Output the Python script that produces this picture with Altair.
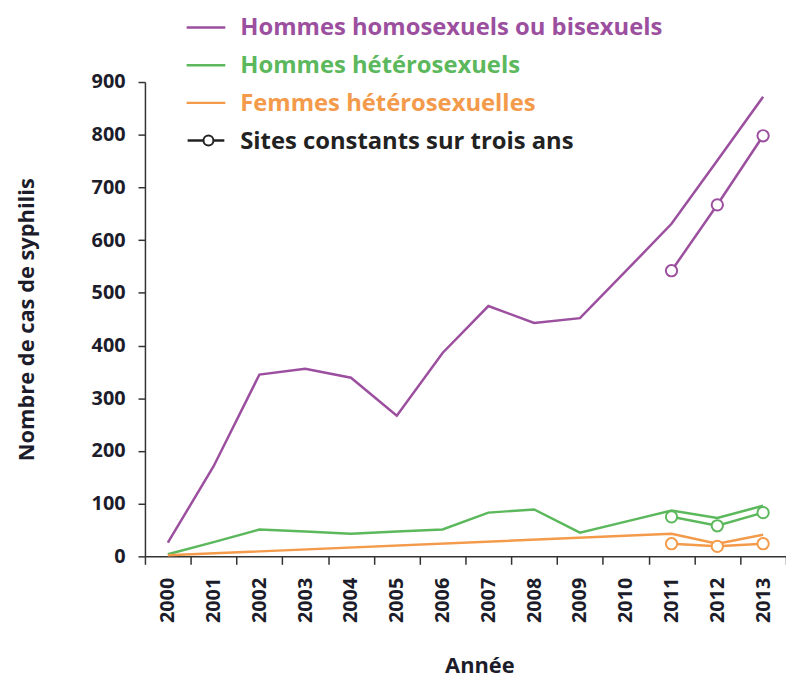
import altair as alt
import pandas as pd

years = [str(y) for y in range(2000, 2014)]
series_names = ["Hommes homosexuels ou bisexuels", "Hommes hétérosexuels", "Femmes hétérosexuelles"]
colors = ["#9b4f9e", "#5cb85c", "#f39a4b"]

msm = [26, 171, 345, 356, 339, 267, 386, 475, 443, 452, 541, 631, 751, 872]
men_het = [4, 27, 51, 47, 43, 47, 51, 83, 89, 45, 66, 87, 73, 96]
fem_years = ["2000", "2011", "2012", "2013"]
fem_het = [2, 43, 24, 41]

const_years = ["2011", "2012", "2013"]
const_msm = [542, 667, 798]
const_men = [75, 58, 83]
const_fem = [24, 19, 24]

legend_labels = series_names + ["Sites constants sur trois ans"]
legend_colors = colors + ["#222222"]

rows = []
for y, v in zip(years, msm):
    rows.append({"year": y, "value": v, "series": series_names[0]})
for y, v in zip(years, men_het):
    rows.append({"year": y, "value": v, "series": series_names[1]})
for y, v in zip(fem_years, fem_het):
    rows.append({"year": y, "value": v, "series": series_names[2]})
main = pd.DataFrame(rows)

crows = []
for name, vals in zip(series_names, [const_msm, const_men, const_fem]):
    for y, v in zip(const_years, vals):
        crows.append({"year": y, "value": v, "series": name})
const = pd.DataFrame(crows)

FONT = "Open Sans"
TXT = "#1c1c2a"
color_scale = alt.Scale(domain=series_names, range=colors)

x_enc = alt.X(
    "year:O",
    bandPosition=0.5,
    scale=alt.Scale(type="band", domain=years, paddingInner=0, paddingOuter=0),
    axis=alt.Axis(
        title="Année", labelAngle=270, tickBand="extent", tickSize=8,
        labelPadding=13, labelFontSize=20, titleFontSize=22,
        titleX=337, titleY=117, titleBaseline="alphabetic",
        labelFont=FONT, titleFont=FONT, labelFontWeight="bold", titleFontWeight="bold",
        labelColor=TXT, titleColor=TXT, domainColor="#333", tickColor="#333",
        domainWidth=1.5, tickWidth=1.5,
    ),
)
y_enc = alt.Y(
    "value:Q",
    scale=alt.Scale(domain=[0, 900], nice=False),
    axis=alt.Axis(
        title="Nombre de cas de syphilis", values=list(range(0, 901, 100)), grid=False,
        tickSize=7, labelPadding=13, labelFontSize=20, titleFontSize=22,
        titleX=-112, titleBaseline="alphabetic",
        labelFont=FONT, titleFont=FONT, labelFontWeight="bold", titleFontWeight="bold",
        labelColor=TXT, titleColor=TXT, domainColor="#333", tickColor="#333",
        domainWidth=1.5, tickWidth=1.5,
    ),
)

lines = alt.Chart(main).mark_line(strokeWidth=2.5).encode(
    x=x_enc, y=y_enc,
    color=alt.Color("series:N", scale=color_scale, legend=None),
)
const_lines = alt.Chart(const).mark_line(strokeWidth=2.5).encode(
    x=x_enc, y=y_enc,
    color=alt.Color("series:N", scale=color_scale, legend=None),
)
const_pts = alt.Chart(const).mark_point(filled=True, fill="white", size=130, strokeWidth=2, opacity=1).encode(
    x=x_enc, y=y_enc,
    stroke=alt.Stroke("series:N", scale=color_scale, legend=None),
)

layers = [lines, const_lines, const_pts]

sym_y = [-55, -17, 21, 59]
for i, (lab, col) in enumerate(zip(legend_labels, legend_colors)):
    base = alt.Chart(pd.DataFrame({"label": [lab]}))
    if i < 3:
        layers.append(base.mark_rule(color=col, strokeWidth=2.5).encode(
            x=alt.value(42), x2=alt.value(81), y=alt.value(sym_y[i])))
    else:
        layers.append(base.mark_rule(color=col, strokeWidth=2.5).encode(
            x=alt.value(43), x2=alt.value(80), y=alt.value(sym_y[i])))
        layers.append(base.mark_point(filled=True, fill="white", stroke=col, size=100, strokeWidth=2, opacity=1).encode(
            x=alt.value(64), y=alt.value(sym_y[i])))
    layers.append(base.mark_text(align="left", baseline="alphabetic", font=FONT, fontWeight="bold",
                                 fontSize=24, color=col).encode(
        x=alt.value(96), y=alt.value(sym_y[i] + 8), text="label:N"))

chart = alt.layer(*layers).properties(
    width=646, height=478,
    autosize=alt.AutoSizeParams(type="none"),
    padding={"left": 138, "top": 72, "right": 0, "bottom": 124},
).configure_view(stroke=None)

chart.save("out.html", embed_options={"renderer": "svg", "actions": False})
